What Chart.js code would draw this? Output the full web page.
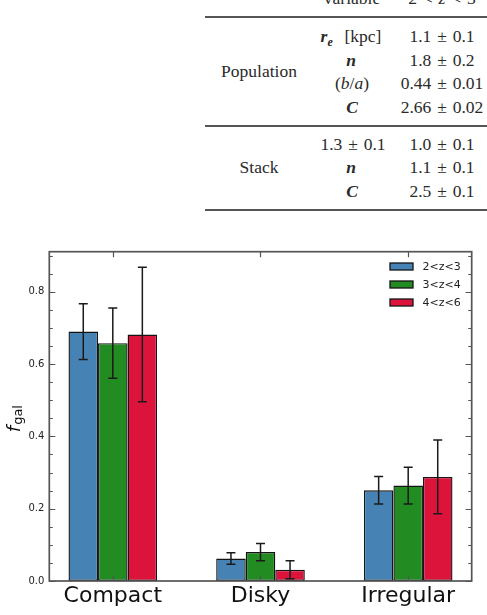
<!DOCTYPE html>
<html><head><meta charset="utf-8">
<script src="https://cdn.jsdelivr.net/npm/chart.js@4.4.0/dist/chart.umd.min.js"></script>
<style>
html,body{margin:0;padding:0;background:#fff;width:487px;height:615px;overflow:hidden;position:relative}
#tbl{position:absolute;left:0;top:0;width:487px;height:230px;overflow:hidden;font-family:"Liberation Serif","Times New Roman",serif;font-size:17.5px;color:#2a2a2a}
.c{position:absolute;line-height:20px;white-space:nowrap;transform:translateX(-50%);word-spacing:1.5px}
.m{font-style:italic;font-weight:bold}
.sub{font-size:12px;position:relative;top:4px;font-style:italic;font-weight:bold}
.rule{position:absolute;left:205px;width:282px;height:1.7px;background:#555}
#wrap{position:absolute;left:0;top:230px;width:487px;height:385px}
</style></head>
<body>
<div id="tbl">
  <div class="c" style="left:352px;top:-11.9px">variable</div>
  <div class="c" style="left:442px;top:-11.9px">2 &lt; <i>z</i> &lt; 3</div>
  <div class="rule" style="top:16px"></div>
  <div class="c" style="left:259px;top:61.1px">Population</div>
  <div class="c" style="left:351px;top:25.6px"><span class="m">r</span><span class="sub">e</span>&nbsp;&nbsp;[kpc]</div>
  <div class="c" style="left:442px;top:25.6px">1.1 ± 0.1</div>
  <div class="c" style="left:351px;top:49.6px"><span class="m">n</span></div>
  <div class="c" style="left:442px;top:49.6px">1.8 ± 0.2</div>
  <div class="c" style="left:352px;top:73.4px">(<i>b</i>/<i>a</i>)</div>
  <div class="c" style="left:442px;top:73.4px">0.44 ± 0.01</div>
  <div class="c" style="left:352px;top:97.4px"><span class="m">C</span></div>
  <div class="c" style="left:442px;top:97.4px">2.66 ± 0.02</div>
  <div class="rule" style="top:125.2px"></div>
  <div class="c" style="left:259px;top:156.8px">Stack</div>
  <div class="c" style="left:353px;top:134.1px">1.3 ± 0.1</div>
  <div class="c" style="left:442px;top:134.1px">1.0 ± 0.1</div>
  <div class="c" style="left:351px;top:157.4px"><span class="m">n</span></div>
  <div class="c" style="left:442px;top:157.4px">1.1 ± 0.1</div>
  <div class="c" style="left:352px;top:180.8px"><span class="m">C</span></div>
  <div class="c" style="left:442px;top:180.8px">2.5 ± 0.1</div>
  <div class="rule" style="top:209.2px"></div>
</div>
<div id="wrap"><canvas id="chart"></canvas></div>
<script>
// ---- data ----
const categories = ['Compact', 'Disky', 'Irregular'];
const seriesLabels = ['2<z<3', '3<z<4', '4<z<6'];
const fz23 = [0.690, 0.062, 0.251];
const ez23 = [0.077, 0.016, 0.038];
const fz34 = [0.658, 0.080, 0.264];
const ez34 = [0.097, 0.024, 0.051];
const fz46 = [0.682, 0.031, 0.288];
const ez46 = [0.186, 0.025, 0.102];
const yTickValues = [0.0, 0.2, 0.4, 0.6, 0.8];
const yMinorStep = 0.05;
const seriesColors = ['#4682B4', '#228B22', '#DC143C'];

const values = [fz23, fz34, fz46];
const errors = [ez23, ez34, ez46];

const datasets = values.map((vals, k) => ({
  label: seriesLabels[k],
  data: vals.map((v, i) => ({ x: i, y: v })),
  errs: errors[k],
  backgroundColor: seriesColors[k],
  borderColor: '#141414',
  borderWidth: 1.4,
  borderSkipped: false,
  categoryPercentage: 0.6,
  barPercentage: 1.0
}));

const AXIS = '#555555';

const decor = {
  id: 'decor',
  afterDatasetsDraw(chart) {
    const ctx = chart.ctx;
    const ca = chart.chartArea;
    const xs = chart.scales.x, ys = chart.scales.y;
    ctx.save();
    // error bars
    ctx.strokeStyle = '#1a1a1a';
    ctx.lineWidth = 1.5;
    chart.data.datasets.forEach((ds, k) => {
      const meta = chart.getDatasetMeta(k);
      meta.data.forEach((bar, i) => {
        const v = ds.data[i].y, e = ds.errs[i];
        const yt = ys.getPixelForValue(v + e), yb = ys.getPixelForValue(v - e);
        const x = bar.x;
        ctx.beginPath();
        ctx.moveTo(x, yt); ctx.lineTo(x, yb);
        ctx.moveTo(x - 4.5, yt); ctx.lineTo(x + 4.5, yt);
        ctx.moveTo(x - 4.5, yb); ctx.lineTo(x + 4.5, yb);
        ctx.stroke();
      });
    });
    // ticks (inward, all sides)
    ctx.strokeStyle = AXIS;
    ctx.lineWidth = 1.2;
    ctx.beginPath();
    const nMinor = Math.floor(ys.max / yMinorStep + 1e-6);
    for (let j = 0; j <= nMinor; j++) {
      const v = j * yMinorStep;
      const y = Math.round(ys.getPixelForValue(v)) + 0.5;
      const major = yTickValues.some(t => Math.abs(t - v) < 1e-6);
      const L = major ? 6 : 3.5;
      ctx.moveTo(ca.left, y); ctx.lineTo(ca.left + L, y);
      ctx.moveTo(ca.right, y); ctx.lineTo(ca.right - L, y);
    }
    categories.forEach((c, i) => {
      const x = Math.round(xs.getPixelForValue(i)) + 0.5;
      ctx.moveTo(x, ca.bottom); ctx.lineTo(x, ca.bottom - 5.5);
      ctx.moveTo(x, ca.top); ctx.lineTo(x, ca.top + 5.5);
    });
    ctx.stroke();
    // frame
    ctx.lineWidth = 1.7;
    ctx.strokeRect(ca.left, ca.top, ca.right - ca.left, ca.bottom - ca.top);
    // legend
    ctx.font = '11px "DejaVu Sans"';
    ctx.textBaseline = 'middle';
    ctx.textAlign = 'left';
    chart.data.datasets.forEach((ds, k) => {
      const cy = ca.top + 14.8 + k * 18;
      const bx = ca.right - 81.7;
      ctx.fillStyle = ds.backgroundColor;
      ctx.fillRect(bx, cy - 3.5, 23, 7);
      ctx.strokeStyle = '#151515';
      ctx.lineWidth = 1.3;
      ctx.strokeRect(bx, cy - 3.5, 23, 7);
      ctx.fillStyle = '#222';
      ctx.fillText(ds.label, bx + 32.5, cy + 0.5);
    });
    // y label  f_gal
    ctx.translate(19.5, (ca.top + ca.bottom) / 2 + 1);
    ctx.rotate(-Math.PI / 2);
    ctx.fillStyle = '#111';
    ctx.textBaseline = 'alphabetic';
    ctx.font = 'italic 18px "DejaVu Sans"';
    ctx.fillText('f', -15, 0);
    ctx.font = '13px "DejaVu Sans"';
    ctx.fillText('gal', -7.5, 2);
    ctx.restore();
  }
};

new Chart(document.getElementById('chart'), {
  type: 'bar',
  data: { datasets },
  options: {
    responsive: true,
    maintainAspectRatio: false,
    animation: false,
    devicePixelRatio: 1,
    layout: { padding: { top: 21.7, right: 15.3, left: 0, bottom: 0 } },
    plugins: { legend: { display: false }, tooltip: { enabled: false } },
    scales: {
      x: {
        type: 'linear',
        offset: false,
        min: -0.43, max: 2.43,
        afterBuildTicks: a => { a.ticks = categories.map((c, i) => ({ value: i })); },
        afterFit: s => { s.height = 34; },
        grid: { display: false, offset: false, drawTicks: false },
        border: { display: false },
        ticks: {
          callback: v => categories[v],
          font: { family: 'DejaVu Sans', size: 22 },
          color: '#111',
          padding: 2,
          maxRotation: 0,
          autoSkip: false
        }
      },
      y: {
        min: 0, max: 0.911,
        afterBuildTicks: a => { a.ticks = yTickValues.map(v => ({ value: v })); },
        afterFit: s => { s.width = 49.3; },
        grid: { display: false, drawTicks: false },
        border: { display: false },
        ticks: {
          callback: v => v.toFixed(1),
          font: { family: 'DejaVu Sans', size: 10 },
          color: '#222',
          padding: 5
        }
      }
    }
  },
  plugins: [decor]
});
</script>
</body></html>
